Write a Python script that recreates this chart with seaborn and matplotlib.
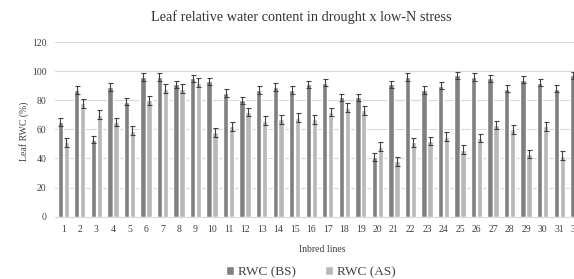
import numpy as np
import pandas as pd
import matplotlib
matplotlib.use("Agg")
import matplotlib.pyplot as plt
from matplotlib.patches import Patch
import seaborn as sns

# values
lines = [str(i) for i in range(1, 33)]
rwc_bs = [65, 87, 53, 89, 79, 96, 96, 91, 95, 93, 85, 80, 87, 89, 87, 91,
          92, 82, 82, 41, 91, 96, 87, 90, 97, 96, 95, 88, 94, 92, 88, 97]
rwc_as = [51, 78, 70, 65, 59, 80, 88, 88, 92, 58, 62, 72, 66, 67, 68, 67,
          72, 75, 73, 48, 38, 51, 52, 55, 46, 54, 63, 60, 43, 62, 42, np.nan]
err_bs = [2.5, 2.5, 2.5, 2.5, 2.5, 2.5, 2.5, 2.5, 2.5, 2.5, 2.5, 2.5, 2.5, 2.5, 2.5, 2.5,
          2.5, 2.5, 2.5, 2.5, 2.5, 2.5, 2.5, 2.5, 2.5, 2.5, 2.5, 2.5, 2.5, 2.5, 2.5, 2.5]
err_as = [3, 3, 3, 3, 3, 3, 3, 3, 3, 3, 3, 3, 3, 3, 3, 3,
          3, 3, 3, 3, 3, 3, 3, 3, 3, 3, 3, 3, 3, 3, 3, 3]
series = ["RWC (BS)", "RWC (AS)"]
colors = ["#808080", "#b8b8b8"]

df = pd.DataFrame({
    "line": lines * 2,
    "rwc": rwc_bs + rwc_as,
    "err": err_bs + err_as,
    "series": [series[0]] * len(lines) + [series[1]] * len(lines),
})

sns.set_style("white")
plt.rcParams["font.family"] = ["Liberation Serif", "DejaVu Serif"]

W, H = 574, 279
fig = plt.figure(figsize=(W / 100, H / 100), dpi=100)
ax_l, ax_r, ax_t, ax_b = 55, 584, 42, 216.7
ax = fig.add_axes([ax_l / W, (H - ax_b) / H, (ax_r - ax_l) / W, (ax_b - ax_t) / H])

sns.barplot(data=df, x="line", y="rwc", hue="series", order=lines,
            hue_order=series, palette=colors, width=0.72, gap=0.1,
            errorbar=None, legend=False, ax=ax)

# error bars placed on the drawn bars
for cont, s in zip(ax.containers, series):
    errs = df[df["series"] == s]["err"].tolist()
    for bar, e in zip(cont, errs):
        h = bar.get_height()
        if np.isnan(h):
            continue
        ax.errorbar(bar.get_x() + bar.get_width() / 2, h, yerr=e, fmt="none",
                    ecolor="#404040", elinewidth=0.8, capsize=1.8, capthick=0.8)

ax.set_xlim(-0.5, len(lines) - 0.5)
ax.set_ylim(0, 120)
ax.set_yticks(range(0, 121, 20))
ax.yaxis.grid(True, color="#d9d9d9", linewidth=0.8)
ax.set_axisbelow(True)
for sp in ["top", "right", "left"]:
    ax.spines[sp].set_visible(False)
ax.spines["bottom"].set_color("#d9d9d9")
ax.tick_params(axis="both", length=0, labelsize=7, colors="#404040", pad=6)
ax.tick_params(axis="y", pad=6)
ax.set_xlabel("")
ax.set_ylabel("")

fig.text(24 / W, 1 - 131 / H, "Leaf RWC (%)", rotation=90, ha="center", va="center",
         fontsize=7, color="#404040")
fig.text(322 / W, 1 - 250 / H, "Inbred lines", ha="center", va="center",
         fontsize=7, color="#404040")
fig.text(301 / W, 1 - 17 / H, "Leaf relative water content in drought x low-N stress",
         ha="center", va="center", fontsize=10.3, color="#333333")

handles = [Patch(facecolor=c, label=s) for c, s in zip(colors, series)]
fig.legend(handles=handles, loc="center", bbox_to_anchor=(311 / W, 1 - 272 / H), ncol=2,
           frameon=False, fontsize=9.5, handlelength=0.6, handleheight=0.6,
           handletextpad=0.3, columnspacing=2.2, labelcolor="#404040")

fig.savefig("out.png", dpi=100)
